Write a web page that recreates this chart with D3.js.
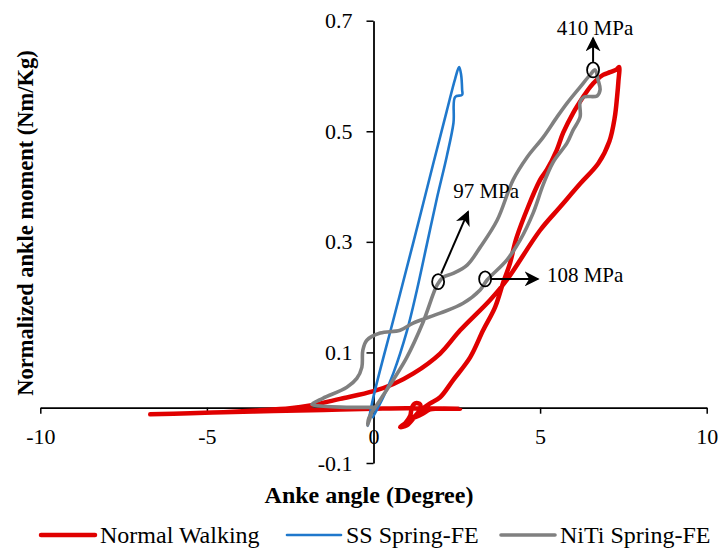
<!DOCTYPE html>
<html>
<head>
<meta charset="utf-8">
<script src="https://cdn.jsdelivr.net/npm/d3@7"></script>
<style>
  body { margin: 0; background: #fff; }
  svg { display: block; font-family: 'Liberation Serif', 'Times New Roman', serif; }
</style>
</head>
<body>
<div id="chart"></div>
<script>
/* tick values */
const xTicks = [-10, -5, 0, 5, 10];
const yTicks = [-0.1, 0.1, 0.3, 0.5, 0.7];

/* Normal Walking (red) */
const normalX = [-6.7, -5.5, -4.5, -3.5, -2.5, -1.9, -1.0, 0.0, 0.6, 1.2, 2.0, 2.6, 3.5, 4.0, 5.0, 5.6, 6.2, 6.75, 7.08, 7.24, 7.31, 7.35, 7.37,
  7.3, 7.1, 6.89, 6.7, 6.5, 6.29, 5.99, 5.69, 5.5, 5.2, 5.0, 4.3, 4.1, 3.89, 3.65, 3.29, 2.9, 2.39, 2.0, 1.7, 1.4, 1.0, 0.8,
  0.95, 1.1, 1.15, 1.25, 1.4, 1.35, 1.2, 1.5, 1.7, 2.6, 1.0, 0.0, -1.5, -3.0, -4.5];
const normalY = [-0.012, -0.010, -0.008, -0.005, -0.001, 0.004, 0.016, 0.030, 0.043, 0.062, 0.098, 0.140, 0.195, 0.231, 0.321, 0.363, 0.405, 0.442, 0.482, 0.525, 0.562, 0.590, 0.616,
  0.612, 0.607, 0.602, 0.593, 0.580, 0.562, 0.533, 0.497, 0.466, 0.430, 0.412, 0.309, 0.262, 0.226, 0.182, 0.140, 0.091, 0.050, 0.019, 0.008, -0.005, -0.032, -0.035,
  -0.028, -0.015, 0.000, 0.008, 0.006, -0.008, -0.018, -0.010, -0.003, -0.002, -0.001, -0.002, -0.004, -0.006, -0.008];

/* SS Spring-FE (blue) */
const ssX = [-0.17, 0.0, 0.6, 1.2, 1.8, 2.2, 2.45, 2.57, 2.63, 2.66, 2.66, 2.45, 2.40, 2.2, 1.9, 1.6, 1.3, 1.0, 0.6, 0.3, -0.02];
const ssY = [-0.032, 0.020, 0.160, 0.300, 0.443, 0.537, 0.595, 0.616, 0.602, 0.575, 0.566, 0.562, 0.515, 0.455, 0.378, 0.295, 0.212, 0.138, 0.063, 0.020, -0.017];

/* NiTi Spring-FE (grey) */
const nitiX = [0.05, -1.0, -1.8, -1.85, -1.52, -0.8, -0.5, -0.35, -0.32, -0.2, 0.2, 0.8, 1.19, 2.0, 2.69, 3.2, 3.41, 4.0, 4.4, 4.79, 5.09, 5.39, 5.81, 5.99, 6.2, 6.2, 6.32, 6.71, 6.8, 6.74, 6.65,
  6.5, 6.2, 5.81, 5.51, 5.09, 4.61, 4.19, 3.71, 3.2, 2.81, 2.39, 2.09, 1.91, 1.49, 1.0, 0.59, 0.2, -0.14, -0.17, -0.05];
const nitiY = [0.001, 0.001, 0.005, 0.006, 0.017, 0.037, 0.053, 0.073, 0.104, 0.122, 0.135, 0.140, 0.153, 0.171, 0.189, 0.213, 0.231, 0.267, 0.303, 0.352, 0.403, 0.444, 0.479, 0.502, 0.526, 0.553, 0.562, 0.564, 0.575, 0.593, 0.611,
  0.602, 0.580, 0.551, 0.526, 0.489, 0.453, 0.412, 0.339, 0.290, 0.258, 0.243, 0.236, 0.222, 0.155, 0.091, 0.050, 0.014, -0.019, -0.032, -0.008];

/* stress call-outs on the NiTi curve */
const noteLabels = ['410 MPa', '97 MPa', '108 MPa'];
const noteX = [6.59, 1.94, 3.35];
const noteY = [0.611, 0.228, 0.233];

const seriesNames = ['Normal Walking', 'SS Spring-FE', 'NiTi Spring-FE'];
const seriesColors = ['#e00000', '#1f78cc', '#808080'];
const seriesWidths = [4.5, 2.6, 3.6];

const width = 721;
const height = 550;

const svg = d3.select('#chart')
  .append('svg')
  .attr('width', width)
  .attr('height', height);

const x = d3.scaleLinear().domain([-10, 10]).range([40.3, 706.7]);
const y = d3.scaleLinear().domain([-0.1, 0.7]).range([463, 20.7]);

/* arrow head */
svg.append('defs').append('marker')
  .attr('id', 'arrow')
  .attr('viewBox', '0 0 10 10')
  .attr('refX', 9)
  .attr('refY', 5)
  .attr('markerWidth', 7.5)
  .attr('markerHeight', 7.5)
  .attr('markerUnits', 'strokeWidth')
  .attr('orient', 'auto')
  .append('path')
  .attr('d', 'M0,0 L10,5 L0,10 L3,5 Z')
  .attr('fill', '#000');

/* x axis crosses at y = 0 */
const xAxis = svg.append('g')
  .attr('transform', 'translate(0,' + y(0) + ')')
  .call(d3.axisBottom(x).tickValues(xTicks).tickSize(6).tickSizeOuter(0).tickFormat(function (d) { return String(d); }));
xAxis.selectAll('text')
  .attr('y', 36.5)
  .attr('dy', 0)
  .style('font-size', '22px')
  .style('font-family', 'Liberation Serif')
  .attr('fill', '#000');

/* y axis crosses at x = 0 */
const yAxis = svg.append('g')
  .attr('transform', 'translate(' + x(0) + ',0)')
  .call(d3.axisLeft(y).tickValues(yTicks).tickSize(7).tickSizeOuter(0).tickPadding(14).tickFormat(function (d) { return String(d); }));
yAxis.selectAll('text')
  .style('font-size', '22px')
  .style('font-family', 'Liberation Serif')
  .attr('fill', '#000');

[xAxis, yAxis].forEach(function (a) {
  a.select('.domain').attr('stroke', '#000').attr('stroke-width', 1.8);
  a.selectAll('.tick line').attr('stroke', '#000').attr('stroke-width', 1.5);
});

/* curves */
const line = d3.line()
  .x(function (d) { return x(d[0]); })
  .y(function (d) { return y(d[1]); })
  .curve(d3.curveCatmullRom.alpha(0.5));

const series = [
  d3.zip(normalX, normalY),
  d3.zip(ssX, ssY),
  d3.zip(nitiX, nitiY)
];

/* draw order: red first, then blue, grey on top */
svg.selectAll('.curve')
  .data(series)
  .enter()
  .append('path')
  .attr('class', 'curve')
  .attr('d', line)
  .attr('fill', 'none')
  .attr('stroke', function (d, i) { return seriesColors[i]; })
  .attr('stroke-width', function (d, i) { return seriesWidths[i]; })
  .attr('stroke-linejoin', 'round')
  .attr('stroke-linecap', 'round');

/* call-outs: ellipse marker + arrow + text */
const arrowFrom = [[0, -8], [3, -8], [6, 0]];
const arrowTo = [[0, -32], [30, -70], [53, 0]];
const textPos = [[2, -35], [48, -84], [100, 3]];

const notes = svg.selectAll('.note')
  .data(noteLabels)
  .enter()
  .append('g')
  .attr('class', 'note')
  .attr('transform', function (d, i) { return 'translate(' + x(noteX[i]) + ',' + y(noteY[i]) + ')'; });

notes.append('ellipse')
  .attr('rx', 6)
  .attr('ry', 7.5)
  .attr('fill', 'none')
  .attr('stroke', '#000')
  .attr('stroke-width', 1.8);

notes.append('line')
  .attr('x1', function (d, i) { return arrowFrom[i][0]; })
  .attr('y1', function (d, i) { return arrowFrom[i][1]; })
  .attr('x2', function (d, i) { return arrowTo[i][0]; })
  .attr('y2', function (d, i) { return arrowTo[i][1]; })
  .attr('stroke', '#000')
  .attr('stroke-width', 2)
  .attr('marker-end', 'url(#arrow)');

notes.append('text')
  .attr('x', function (d, i) { return textPos[i][0]; })
  .attr('y', function (d, i) { return textPos[i][1]; })
  .attr('text-anchor', 'middle')
  .style('font-size', '21px')
  .text(function (d) { return d; });

/* axis titles */
svg.append('text')
  .attr('x', 369)
  .attr('y', 503)
  .attr('text-anchor', 'middle')
  .style('font-size', '24px')
  .style('font-weight', 'bold')
  .text('Anke angle (Degree)');

svg.append('text')
  .attr('transform', 'translate(33,223) rotate(-90)')
  .attr('text-anchor', 'middle')
  .style('font-size', '22.5px')
  .style('font-weight', 'bold')
  .text('Normalized ankle moment (Nm/Kg)');

/* legend */
const legendLineX = [41, 287, 501];
const legend = svg.selectAll('.legend')
  .data(seriesNames)
  .enter()
  .append('g')
  .attr('class', 'legend')
  .attr('transform', function (d, i) { return 'translate(' + legendLineX[i] + ',535)'; });

legend.append('line')
  .attr('x1', 0)
  .attr('x2', 54)
  .attr('stroke', function (d, i) { return seriesColors[i]; })
  .attr('stroke-width', function (d, i) { return seriesWidths[i]; })
  .attr('stroke-linecap', 'round');

legend.append('text')
  .attr('x', 59)
  .attr('y', 8)
  .style('font-size', '24px')
  .text(function (d) { return d; });
</script>
</body>
</html>
